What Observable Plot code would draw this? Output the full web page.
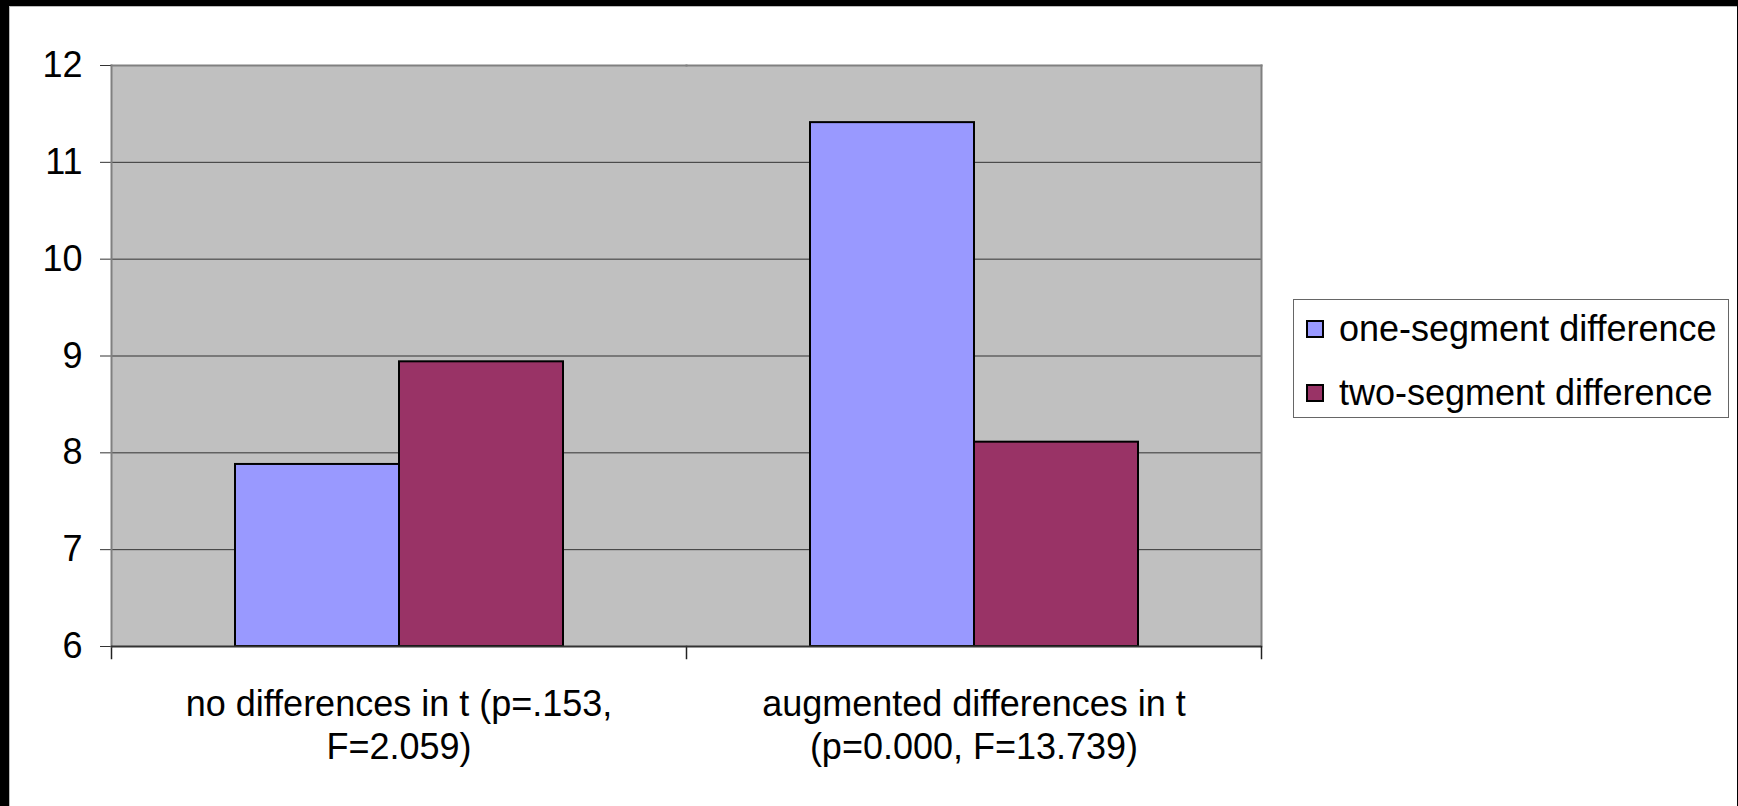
<!DOCTYPE html>
<html>
<head>
<meta charset="utf-8">
<script src="https://cdn.jsdelivr.net/npm/d3@7"></script>
<script src="https://cdn.jsdelivr.net/npm/@observablehq/plot@0.6"></script>
<style>
html, body { margin: 0; padding: 0; background: #000; }
#page { position: relative; width: 1738px; height: 806px; background: #000; overflow: hidden; font-family: "Liberation Sans", Arial, sans-serif; }
#paper { position: absolute; left: 9px; top: 6px; width: 1727px; height: 800px; background: #fff; border-top: 1px solid #bbb; border-left: 1px solid #bbb; }
#plotbg { position: absolute; left: 111px; top: 65px; width: 1150px; height: 581px; background: #c0c0c0; }
#chart { position: absolute; left: 0; top: 0; }
#legend { position: absolute; left: 1293px; top: 299px; width: 434px; height: 117px; border: 1px solid #666; background: #fff; }
.item { position: absolute; left: 12px; height: 40px; display: flex; align-items: center; font-size: 36px; color: #000; white-space: nowrap; }
.sw { width: 14px; height: 14px; border: 2px solid #000; margin-right: 15px; flex: none; }
</style>
</head>
<body>
<div id="page">
  <div id="paper"></div>
  <div id="plotbg"></div>
  <div id="chart"></div>
  <div id="legend"></div>
</div>
<script>
// ---- data ----
const categories = [
  "no differences in t (p=.153,\nF=2.059)",
  "augmented differences in t\n(p=0.000, F=13.739)"
];
const series = ["one-segment difference", "two-segment difference"];
const oneSegment = [7.88, 11.41];
const twoSegment = [8.94, 8.11];
const yDomain = [6, 12];
const yTicks = [6, 7, 8, 9, 10, 11, 12];
const colors = ["#9999FF", "#993366"];

const data = categories.flatMap((c, i) => [
  {category: c, series: series[0], value: oneSegment[i]},
  {category: c, series: series[1], value: twoSegment[i]}
]);

const chart = Plot.plot({
  width: 1738,
  height: 806,
  marginLeft: 111,
  marginRight: 477,
  marginTop: 65,
  marginBottom: 160,
  style: {background: "transparent", fontFamily: "'Liberation Sans', Arial, sans-serif", color: "#000"},
  fx: {domain: categories, padding: 0, label: null},
  x: {domain: series, paddingInner: 0, paddingOuter: 0.75, axis: null},
  y: {domain: yDomain, label: null},
  color: {domain: series, range: colors},
  marks: [
    Plot.ruleY(yTicks, {stroke: "#333", strokeWidth: 1}),
    Plot.barY(data, {fx: "category", x: "series", y1: yDomain[0], y2: "value", fill: "series", stroke: "#000", strokeWidth: 2}),
    Plot.frame({anchor: "top", stroke: "#808080", strokeWidth: 2}),
    Plot.frame({anchor: "right", stroke: "#808080", strokeWidth: 2, facetAnchor: "right"}),
    Plot.frame({anchor: "left", insetTop: 581, insetBottom: -12, stroke: "#222", strokeWidth: 1.5}),
    Plot.frame({anchor: "right", insetTop: 581, insetBottom: -12, stroke: "#222", strokeWidth: 1.5, facetAnchor: "right"}),
    Plot.axisY({ticks: yTicks, tickFormat: "d", tickSize: 11, tickPadding: 18, fontSize: 36, stroke: "#333", label: null}),
    Plot.frame({anchor: "left", stroke: "#808080", strokeWidth: 2, facetAnchor: "left"}),
    Plot.ruleY([yDomain[0]], {stroke: "#333", strokeWidth: 2}),
    Plot.axisFx({anchor: "bottom", tickSize: 0, tickPadding: 39, fontSize: 36, lineHeight: 1.2, label: null})
  ]
});
document.getElementById("chart").appendChild(chart);

// ---- legend ----
const legend = document.getElementById("legend");
const rowTops = [9, 73];
series.forEach((s, i) => {
  const item = document.createElement("div");
  item.className = "item";
  item.style.top = rowTops[i] + "px";
  const sw = document.createElement("span");
  sw.className = "sw";
  sw.style.background = colors[i];
  const label = document.createElement("span");
  label.textContent = s;
  item.appendChild(sw);
  item.appendChild(label);
  legend.appendChild(item);
});
</script>
</body>
</html>
